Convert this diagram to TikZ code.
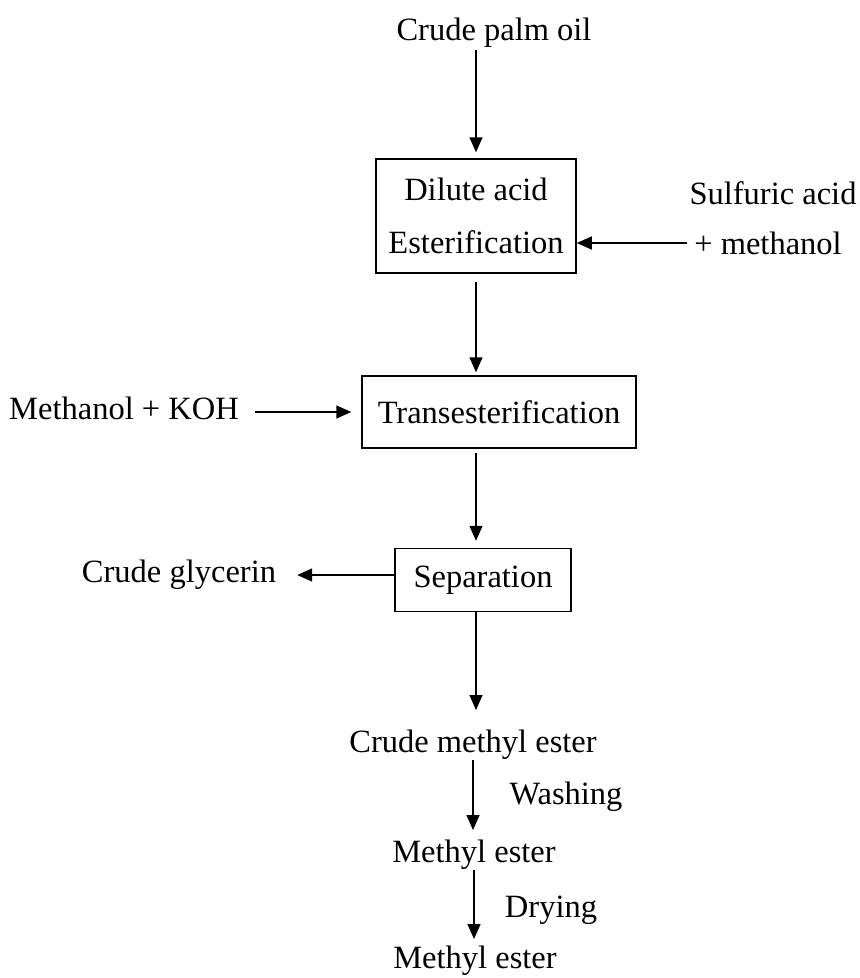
\documentclass[tikz,border=0pt]{standalone}
\usepackage{fontspec}
\setmainfont{Liberation Serif}
\usepackage{tikz}
\usetikzlibrary{arrows.meta}

\begin{document}
\begin{tikzpicture}[x=1pt, y=-1pt,
  every node/.style={font=\fontsize{32.5}{53}\selectfont, inner sep=0pt, align=center},
  procbox/.style={draw, line width=1.5pt},
  flow/.style={-{Triangle[length=15pt,width=13pt]}, line width=1.5pt}]

\useasboundingbox (0,0) rectangle (860,978);

\draw(494,33) node (palm) {Crude palm oil};
\draw(476,216) node[procbox, minimum width=200pt, minimum height=114pt] (ester) {Dilute acid\\Esterification};
\draw(773,193) node (sulf) {Sulfuric acid};
\draw(768,243) node (meoh) {+ methanol};
\draw(499,412) node[procbox, minimum width=274pt, minimum height=72pt] (trans) {Transesterification};
\draw(124,408) node (koh) {Methanol + KOH};
\draw(483,580) node[procbox, minimum width=176pt, minimum height=63pt] (sep) {Separation};
\draw(179,575) node (glyc) {Crude glycerin};
\draw(473,745) node (cme) {Crude methyl ester};
\draw(566,797) node (wash) {Washing};
\draw(474,855) node (me1) {Methyl ester};
\draw(551,910) node (dry) {Drying};
\draw(475,961) node (me2) {Methyl ester};

\draw[flow, shorten <=2pt, shorten >=6pt] (palm.south -| ester) -- (ester.north);
\draw[flow, shorten <=7pt] (meoh.west) -- (meoh.west -| ester.east);
\draw[flow, shorten <=8pt, shorten >=3pt] (ester.south) -- (ester.south |- trans.north);
\draw[flow, shorten <=16pt, shorten >=10pt] (koh.east |- trans) -- (trans.west);
\draw[flow, shorten <=4pt, shorten >=7pt] (trans.south -| ester) -- (sep.north -| ester);
\draw[flow, shorten >=21pt] (glyc.east -| sep.west) -- (glyc.east);
\draw[flow, shorten >=20pt] (sep.south -| ester) -- (cme.north -| ester);
\draw[flow, shorten >=10pt] (cme.south) -- (cme.south |- me1.north);
\draw[flow, shorten >=7pt] (me1.south) -- (me1.south |- me2.north);

\end{tikzpicture}
\end{document}
